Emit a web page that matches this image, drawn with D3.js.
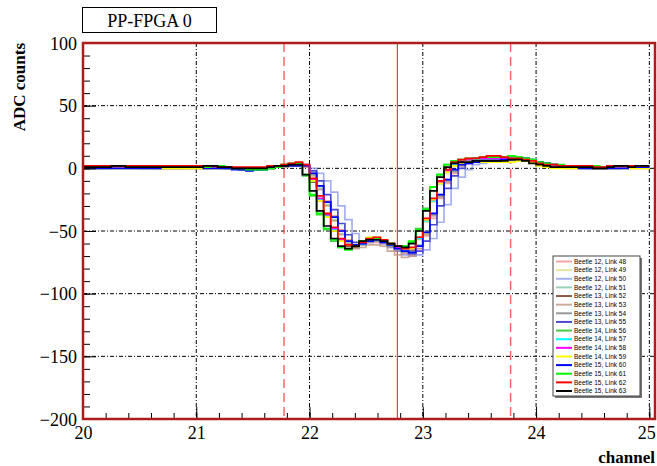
<!DOCTYPE html>
<html>
<head>
<meta charset="utf-8">
<script src="https://cdn.jsdelivr.net/npm/d3@7"></script>
<style>
  body { margin: 0; background: #fff; }
  svg { display: block; }
</style>
</head>
<body>
<div id="chart"></div>
<script>
// Histogram bins: 1/16 of a channel, starting at channel 20
const BIN_START = 20;
const BIN_WIDTH = 1 / 16;

const legendLabels = [
  'Beetle 12, Link 48', 'Beetle 12, Link 49', 'Beetle 12, Link 50', 'Beetle 12, Link 51',
  'Beetle 13, Link 52', 'Beetle 13, Link 53', 'Beetle 13, Link 54', 'Beetle 13, Link 55',
  'Beetle 14, Link 56', 'Beetle 14, Link 57', 'Beetle 14, Link 58', 'Beetle 14, Link 59',
  'Beetle 15, Link 60', 'Beetle 15, Link 61', 'Beetle 15, Link 62', 'Beetle 15, Link 63'
];

const lineColors = [
  'rgba(235,90,90,0.55)', 'rgba(215,215,110,0.65)', 'rgba(90,110,230,0.55)', 'rgba(80,170,120,0.55)',
  '#8a5a44', 'rgba(190,150,130,0.8)', '#999999', '#4b4bd0',
  '#44cc44', '#00ffff', '#ff00ff', '#ffff00',
  '#0000ff', '#00ff00', '#ff0000', '#000000'
];

// ADC counts per bin (80 bins, channel 20 .. 25)
const link48 = [0,0,0,1,1,1,1,1,0,0,0,0,0,0,1,1,1,1,1,0,0,0,-1,-1,0,0,1,1,
  2,3,
  3,2,-4,-14,-26,-38,-49,-57,-61,-60,-59,-59,-60,-63,-66,-68,-69,-64,-54,-40,-24,-12,-4,2,4,5,6,
  6,6,6,7,7,6,5, 4,3,2,1, 1,1,1,1,0,0,1,1,1,1,1,1];
const link49 = [0,0,0,0,0,0,0,0,0,0,0,0,0,0,0,0,0,0,0,0,0,0,0,0,0,0,0,1,
  2,2,
  3,2,-9,-24,-37,-48,-57,-61,-62,-59,-57,-56,-57,-60,-62,-64,-64,-57,-43,-27,-13,-4,2,5,6,6,7,
  7,7,7,7,6,6,5, 3,2,1,1, 0,0,0,0,0,0,0,0,0,0,0,0];
const link50 = [0,0,0,0,1,1,1,1,1,1,0,0,0,0,0,1,1,1,1,1,0,0,-1,-1,-1,0,0,1,
  1,2,
  2,2,0,-4,-10,-19,-30,-41,-52,-58,-59,-58,-60,-63,-66,-69,-70,-69,-65,-56,-43,-29,-16,-7,-1,3,4,
  6,6,7,7,7,6,5, 4,3,2,1, 1,1,0,0,0,0,1,1,1,1,1,1];
const link51 = [0,0,0,0,0,0,0,0,0,0,0,0,0,0,0,0,0,0,0,0,0,0,0,0,0,0,1,1,
  2,2,
  2,2,-5,-16,-29,-41,-52,-59,-62,-60,-58,-58,-59,-62,-64,-66,-66,-61,-51,-37,-21,-9,-2,3,5,6,7,
  8,8,9,9,9,8,6, 4,3,2,2, 1,1,1,1,1,1,1,1,1,1,1,1];
const link52 = [1,1,1,1,1,1,1,1,1,1,1,1,1,1,1,1,1,1,1,1,0,0,0,0,0,0,1,1,
  3,3,
  4,2,-11,-26,-39,-50,-58,-62,-63,-60,-57,-56,-58,-61,-63,-65,-65,-56,-41,-25,-11,-2,3,6,7,8,8,
  8,8,8,8,7,6,5, 3,2,2,1, 1,1,1,1,1,1,1,1,1,1,1,1];
const link53 = [0,0,0,0,0,0,0,0,0,0,0,0,0,0,0,0,0,0,0,0,0,0,0,0,0,0,0,1,
  1,2,
  2,1,-6,-17,-30,-42,-53,-60,-64,-63,-61,-61,-62,-66,-69,-71,-70,-64,-53,-38,-23,-11,-3,2,4,5,6,
  7,7,7,8,7,6,5, 3,2,1,1, 0,0,0,0,0,0,0,0,0,0,0,0];
const link54 = [1,1,1,1,1,1,1,1,0,0,0,0,0,0,0,0,0,0,1,1,0,0,0,0,0,0,1,1,
  2,3,
  3,2,-4,-14,-27,-39,-50,-58,-62,-61,-59,-58,-59,-62,-65,-67,-68,-62,-52,-37,-22,-10,-2,3,5,6,7,
  7,7,8,8,8,7,5, 3,2,2,1, 1,1,1,1,1,1,1,1,1,1,1,1];
const link55 = [1,1,1,1,1,1,1,1,1,1,1,2,2,1,1,1,1,1,1,1,0,0,-1,-1,-1,0,1,1,
  2,3,
  3,3,-2,-10,-21,-33,-44,-53,-59,-60,-58,-57,-58,-61,-63,-66,-68,-66,-58,-45,-30,-16,-6,0,4,6,7,
  7,7,8,8,8,7,6, 5,4,3,2, 1,1,1,0,0,0,0,0,1,1,1,1];
const link56 = [1,1,1,1,1,1,1,1,1,1,1,1,1,1,1,1,1,1,1,1,0,0,-1,-1,-1,-1,0,1,
  2,3,
  3,-6,-22,-37,-49,-58,-63,-64,-61,-58,-57,-56,-58,-60,-62,-62,-59,-48,-32,-15,-5,3,6,7,7,8,8,
  8,9,9,9,9,8,7, 5,4,3,2, 2,2,2,2,1,1,1,1,1,1,1,1];
const link57 = [1,1,1,1,1,1,1,1,1,1,1,1,1,1,1,1,1,1,1,1,0,0,0,0,0,0,1,1,
  2,3,
  3,2,-10,-25,-38,-49,-57,-61,-62,-60,-58,-57,-58,-61,-63,-65,-64,-56,-42,-26,-12,-3,3,6,7,7,8,
  8,8,8,8,8,7,6, 4,3,2,1, 1,1,1,1,1,1,1,1,1,1,1,1];
const link58 = [1,1,1,1,1,1,1,1,1,1,1,1,1,1,1,1,1,1,1,1,1,0,0,0,0,0,1,1,
  2,3,
  4,2,-9,-24,-37,-48,-57,-61,-61,-58,-56,-56,-57,-60,-63,-64,-64,-55,-41,-25,-11,-2,4,6,7,8,8,
  8,8,8,8,8,7,6, 4,3,2,2, 1,1,1,1,1,1,1,1,1,1,1,1];
const link59 = [0,0,0,0,0,0,0,0,0,0,0,0,0,0,0,0,0,0,0,0,0,0,0,0,0,0,0,1,
  2,2,
  3,2,-10,-26,-39,-50,-58,-61,-62,-58,-55,-55,-57,-60,-62,-64,-64,-55,-41,-25,-12,-3,2,4,5,5,5,
  5,5,5,5,6,6,5, 2,1,0,0, 0,0,0,0,0,0,0,0,0,0,0,0];
const link60 = [0,0,0,0,0,0,0,0,0,0,0,1,1,2,2,1,1,0,0,0,0,-1,-1,-2,-1,-1,0,1,
  2,2,
  2,2,-4,-14,-27,-39,-50,-58,-61,-60,-58,-57,-59,-61,-64,-66,-67,-62,-51,-36,-21,-9,-1,3,4,5,6,
  6,6,7,7,8,8,7, 5,4,3,2, 1,1,0,0,0,0,0,0,0,1,1,1];
const link61 = [2,2,2,2,2,2,2,2,2,2,2,1,1,1,1,1,1,1,2,2,1,0,0,-1,-1,-1,0,1,
  3,4,
  4,-5,-21,-36,-48,-57,-63,-65,-62,-58,-56,-56,-57,-60,-62,-62,-58,-49,-33,-15,-5,3,6,7,8,8,9,
  9,9,9,10,9,8,7, 5,4,3,3, 2,2,2,2,2,1,1,2,2,2,2,2];
const link62 = [2,2,2,2,2,2,2,2,2,2,2,2,2,2,2,2,2,2,2,1,1,1,1,1,1,1,2,2,
  3,4,
  5,3,-8,-22,-36,-47,-56,-61,-62,-59,-56,-55,-57,-60,-62,-64,-63,-55,-40,-24,-10,-1,5,7,8,8,9,
  10,10,9,8,8,7,6, 4,3,3,2, 2,2,2,2,1,1,2,2,2,2,2,2];
const link63 = [1,1,1,1,2,2,1,1,1,1,1,1,1,1,1,1,1,2,2,1,1,0,0,0,0,0,1,2,
  2,3,
  3,-5,-18,-34,-46,-56,-62,-64,-62,-58,-57,-57,-58,-60,-62,-63,-60,-50,-34,-18,-7,1,4,5,5,6,6,
  6,6,6,7,7,6,4, 3,2,1,1, 1,1,1,1,0,0,1,2,2,1,2,2];

const allLinks = [link48, link49, link50, link51, link52, link53, link54, link55,
  link56, link57, link58, link59, link60, link61, link62, link63];

const xMajorTicks = [20, 21, 22, 23, 24, 25];
const yMajorTicks = [-200, -150, -100, -50, 0, 50, 100];
const xGridLines = [21, 22, 23, 24, 25];
const yGridLines = [-150, -100, -50, 0, 50];
const dashedMarkers = [21.775, 23.775];
const solidMarkers = [22.775];

// Canvas and frame
const W = 657, H = 466;
const FRAME = { LEFT: 83, RIGHT: 655, TOP: 43, BOTTOM: 419 };

const svg = d3.select('#chart')
  .append('svg')
  .attr('width', W)
  .attr('height', H);

const x = d3.scaleLinear()
  .domain([20, 25.05])
  .range([FRAME.LEFT, FRAME.RIGHT]);

const y = d3.scaleLinear()
  .domain([-200, 100])
  .range([FRAME.BOTTOM, FRAME.TOP]);

svg.append('defs')
  .append('clipPath')
  .attr('id', 'frame-clip')
  .append('rect')
  .attr('x', FRAME.LEFT)
  .attr('y', FRAME.TOP)
  .attr('width', FRAME.RIGHT - FRAME.LEFT)
  .attr('height', FRAME.BOTTOM - FRAME.TOP);

// Grid (ROOT style dotted)
const grid = svg.append('g').attr('class', 'grid');
grid.selectAll('line.gx')
  .data(xGridLines)
  .enter()
  .append('line')
  .attr('x1', d => x(d)).attr('x2', d => x(d))
  .attr('y1', FRAME.TOP).attr('y2', FRAME.BOTTOM)
  .attr('stroke', '#000')
  .attr('stroke-width', 1)
  .attr('stroke-dasharray', '4,2,1,2');
grid.selectAll('line.gy')
  .data(yGridLines)
  .enter()
  .append('line')
  .attr('x1', FRAME.LEFT).attr('x2', FRAME.RIGHT)
  .attr('y1', d => y(d)).attr('y2', d => y(d))
  .attr('stroke', '#000')
  .attr('stroke-width', 1)
  .attr('stroke-dasharray', '4,2,1,2');

// Sampling marker lines
svg.selectAll('line.marker-dashed')
  .data(dashedMarkers)
  .enter()
  .append('line')
  .attr('x1', d => x(d)).attr('x2', d => x(d))
  .attr('y1', FRAME.TOP).attr('y2', FRAME.BOTTOM)
  .attr('stroke', '#ff4a4a')
  .attr('stroke-opacity', 0.85)
  .attr('stroke-width', 1.5)
  .attr('stroke-dasharray', '9,5');
svg.selectAll('line.marker-solid')
  .data(solidMarkers)
  .enter()
  .append('line')
  .attr('x1', d => x(d)).attr('x2', d => x(d))
  .attr('y1', FRAME.TOP).attr('y2', FRAME.BOTTOM)
  .attr('stroke', '#d42020')
  .attr('stroke-width', 1);

// Step histograms, one per link
const stepLine = d3.line()
  .x(d => x(d[0]))
  .y(d => y(d[1]))
  .curve(d3.curveStepAfter);

const plot = svg.append('g').attr('clip-path', 'url(#frame-clip)');
allLinks.forEach(function(values, i) {
  const pts = values.map((v, k) => [BIN_START + k * BIN_WIDTH, v]);
  pts.push([BIN_START + values.length * BIN_WIDTH, values[values.length - 1]]);
  plot.append('path')
    .datum(pts)
    .attr('fill', 'none')
    .attr('stroke', lineColors[i])
    .attr('stroke-width', 1.7)
    .attr('d', stepLine);
});

// Axes: ticks point inward like ROOT
const yAxisMajor = d3.axisLeft(y)
  .tickValues(yMajorTicks)
  .tickSize(-13)
  .tickPadding(6)
  .tickFormat(d3.format('d'));
const yAxisMinor = d3.axisLeft(y)
  .tickValues(d3.range(-200, 101, 10))
  .tickSize(-7)
  .tickFormat('');
const xAxisMajor = d3.axisBottom(x)
  .tickValues(xMajorTicks)
  .tickSize(-12)
  .tickPadding(7)
  .tickFormat(d3.format('d'));
const xAxisMinor = d3.axisBottom(x)
  .tickValues(d3.range(20, 25.01, 0.2))
  .tickSize(-6)
  .tickFormat('');

function styleAxis(g) {
  g.select('.domain').remove();
  g.selectAll('line').attr('stroke', '#000').attr('stroke-width', 1);
  g.selectAll('text')
    .attr('fill', '#000')
    .style('font-family', '"Liberation Serif", "Times New Roman", serif')
    .style('font-size', '18px');
}

svg.append('g').attr('transform', `translate(${FRAME.LEFT},0)`).call(yAxisMinor).call(styleAxis);
svg.append('g').attr('transform', `translate(${FRAME.LEFT},0)`).call(yAxisMajor).call(styleAxis)
  .selectAll('text').attr('dy', '0.35em');
svg.append('g').attr('transform', `translate(0,${FRAME.BOTTOM})`).call(xAxisMinor).call(styleAxis);
const xMajorG = svg.append('g').attr('transform', `translate(0,${FRAME.BOTTOM})`).call(xAxisMajor).call(styleAxis);
// keep the last label ("25") inside the canvas
xMajorG.selectAll('text').filter(d => d === 25).attr('dx', -3);

// Frame border
svg.append('rect')
  .attr('x', FRAME.LEFT)
  .attr('y', FRAME.TOP)
  .attr('width', FRAME.RIGHT - FRAME.LEFT)
  .attr('height', FRAME.BOTTOM - FRAME.TOP)
  .attr('fill', 'none')
  .attr('stroke', '#b01c1c')
  .attr('stroke-width', 2.5);

// Axis titles
svg.append('text')
  .attr('transform', 'translate(25, 43) rotate(-90)')
  .attr('text-anchor', 'end')
  .style('font-family', '"Liberation Serif", "Times New Roman", serif')
  .style('font-weight', 'bold')
  .style('font-size', '17px')
  .text('ADC counts');

svg.append('text')
  .attr('x', 655)
  .attr('y', 463)
  .attr('text-anchor', 'end')
  .style('font-family', '"Liberation Serif", "Times New Roman", serif')
  .style('font-weight', 'bold')
  .style('font-size', '17px')
  .text('channel');

// Title box
svg.append('rect')
  .attr('x', 82.5).attr('y', 7.5)
  .attr('width', 134).attr('height', 25)
  .attr('fill', '#fff')
  .attr('stroke', '#000')
  .attr('stroke-width', 1);
svg.append('text')
  .attr('x', 149.5)
  .attr('y', 26.5)
  .attr('text-anchor', 'middle')
  .style('font-family', '"Liberation Serif", "Times New Roman", serif')
  .style('font-size', '18px')
  .text('PP-FPGA 0');

// Legend
const LEG = { X: 553, Y: 256, W: 87, H: 140 };
const legend = svg.append('g');
legend.append('rect')
  .attr('x', LEG.X + 2).attr('y', LEG.Y + 2)
  .attr('width', LEG.W).attr('height', LEG.H)
  .attr('fill', '#777');
legend.append('rect')
  .attr('x', LEG.X).attr('y', LEG.Y)
  .attr('width', LEG.W).attr('height', LEG.H)
  .attr('fill', '#fff')
  .attr('stroke', '#444')
  .attr('stroke-width', 1);

const legY = d3.scaleLinear().domain([0, 15]).range([LEG.Y + 5.5, LEG.Y + LEG.H - 5]);
legendLabels.forEach(function(name, i) {
  legend.append('line')
    .attr('x1', LEG.X + 3).attr('x2', LEG.X + 19)
    .attr('y1', legY(i)).attr('y2', legY(i))
    .attr('stroke', lineColors[i])
    .attr('stroke-width', 2);
  legend.append('text')
    .attr('x', LEG.X + 21)
    .attr('y', legY(i))
    .attr('dy', '0.35em')
    .style('font-family', '"Liberation Sans", Arial, sans-serif')
    .style('font-size', '6.5px')
    .text(name);
});
</script>
</body>
</html>
